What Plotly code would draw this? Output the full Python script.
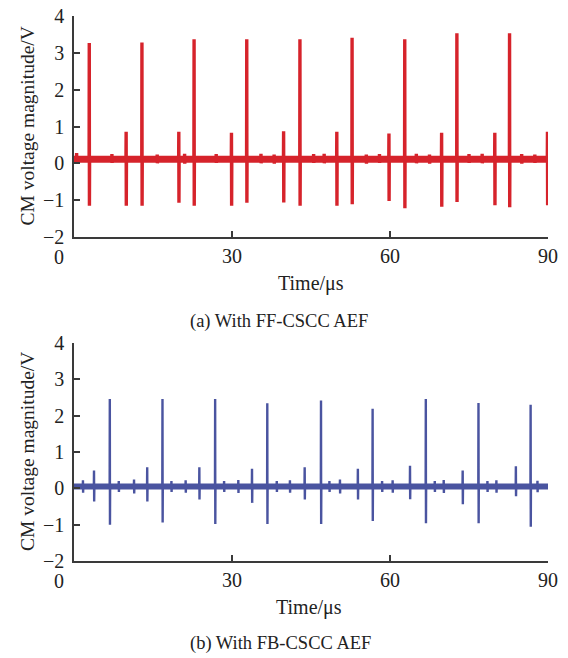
import plotly.graph_objects as go

# ---------------- data ----------------
# (a) With FF-CSCC AEF  (red)
ff_big_t = [2.9, 12.9, 22.8, 32.8, 42.9, 52.8, 62.8, 72.7, 82.7]
ff_big_hi = [3.27, 3.28, 3.37, 3.37, 3.37, 3.41, 3.37, 3.53, 3.53]
ff_big_lo = [-1.15, -1.15, -1.15, -1.07, -1.15, -1.11, -1.22, -1.05, -1.19]
ff_small_t = [9.9, 19.9, 29.9, 39.8, 49.9, 59.8, 69.8, 79.9, 89.9]
ff_small_hi = [0.86, 0.86, 0.83, 0.87, 0.86, 0.81, 0.83, 0.83, 0.86]
ff_small_lo = [-1.15, -1.07, -1.15, -1.06, -1.15, -1.02, -1.18, -1.14, -1.14]
ff_ripple_t = [0.5, 7.2, 15.8, 21.0, 27.0, 35.5, 38.0, 45.5, 47.5,
               55.5, 58.0, 65.0, 67.5, 75.0, 77.5, 85.0, 87.5]
ff_ripple_hi = [0.28, 0.25, 0.24, 0.26, 0.25, 0.26, 0.24, 0.25, 0.26,
                0.24, 0.25, 0.26, 0.24, 0.25, 0.26, 0.25, 0.24]
ff_ripple_lo = [0.0, 0.01, 0.0, -0.01, 0.01, 0.0, -0.01, 0.01, 0.0,
                -0.01, 0.01, 0.0, -0.01, 0.01, 0.0, -0.01, 0.01]
ff_base = 0.11

# (b) With FB-CSCC AEF  (blue)
fb_big_t = [6.8, 16.8, 26.8, 36.7, 46.9, 56.7, 66.8, 76.8, 86.7]
fb_big_hi = [2.46, 2.46, 2.46, 2.34, 2.42, 2.19, 2.46, 2.35, 2.30]
fb_big_lo = [-1.0, -0.94, -0.98, -0.98, -0.98, -0.90, -0.96, -0.96, -1.06]
fb_small_t = [3.8, 13.9, 23.8, 33.8, 43.8, 53.9, 63.8, 73.8, 83.9]
fb_small_hi = [0.49, 0.58, 0.58, 0.54, 0.58, 0.54, 0.62, 0.49, 0.61]
fb_small_lo = [-0.36, -0.36, -0.31, -0.40, -0.31, -0.31, -0.30, -0.44, -0.22]
fb_ripple_t = [1.7, 8.5, 11.4, 18.5, 21.2, 28.5, 31.2, 38.5, 41.0,
               48.5, 50.5, 58.5, 60.5, 68.5, 70.2, 78.5, 80.2, 88.0]
fb_ripple_hi = [0.22, 0.2, 0.24, 0.2, 0.22, 0.2, 0.23, 0.2, 0.22,
                0.2, 0.24, 0.2, 0.22, 0.2, 0.23, 0.2, 0.22, 0.21]
fb_ripple_lo = [-0.12, -0.1, -0.14, -0.1, -0.12, -0.1, -0.13, -0.1, -0.12,
                -0.1, -0.14, -0.1, -0.12, -0.1, -0.13, -0.1, -0.12, -0.11]
fb_base = 0.05

x_tick_vals = [0, 30, 60, 90]
x_tick_text = ["", "30", "60", "90"]
y_tick_vals = [-2, -1, 0, 1, 2, 3, 4]

x_title = "Time/μs"
y_title = "CM voltage magnitude/V"
caption_a = "(a) With FF-CSCC AEF"
caption_b = "(b) With FB-CSCC AEF"

RED = "#d6232b"
BLUE = "#4a54a0"
FONT = "Liberation Serif, Times New Roman, serif"
TXT = "#222222"


def build_wave(base, events):
    """events: list of (t, hi, lo); returns polyline x,y."""
    xs, ys = [0.0], [base]
    for t, hi, lo in sorted(events):
        xs += [t - 0.03, t, t + 0.03, t + 0.06]
        ys += [base, hi, lo, base]
    xs.append(90.0)
    ys.append(base)
    return xs, ys


def events_of(*groups):
    ev = []
    for ts, his, los in groups:
        ev += list(zip(ts, his, los))
    return ev


ff_x, ff_y = build_wave(ff_base, events_of((ff_big_t, ff_big_hi, ff_big_lo),
                                           (ff_small_t, ff_small_hi, ff_small_lo),
                                           (ff_ripple_t, ff_ripple_hi, ff_ripple_lo)))
fb_x, fb_y = build_wave(fb_base, events_of((fb_big_t, fb_big_hi, fb_big_lo),
                                           (fb_small_t, fb_small_hi, fb_small_lo),
                                           (fb_ripple_t, fb_ripple_hi, fb_ripple_lo)))

fig = go.Figure()
fig.add_trace(go.Scatter(x=[0, 90], y=[ff_base, ff_base], mode="lines",
                         line=dict(color=RED, width=7), xaxis="x", yaxis="y",
                         showlegend=False, hoverinfo="skip"))
fig.add_trace(go.Scatter(x=ff_x, y=ff_y, mode="lines",
                         line=dict(color=RED, width=3.4), xaxis="x", yaxis="y",
                         showlegend=False))
fig.add_trace(go.Scatter(x=[0, 90], y=[fb_base, fb_base], mode="lines",
                         line=dict(color=BLUE, width=6), xaxis="x2", yaxis="y2",
                         showlegend=False, hoverinfo="skip"))
fig.add_trace(go.Scatter(x=fb_x, y=fb_y, mode="lines",
                         line=dict(color=BLUE, width=2.4), xaxis="x2", yaxis="y2",
                         showlegend=False))

# the page body margin is removed (post_script), so the figure fills the window
W, H = 568, 658
X0, X1 = 74, 548
T1, B1 = 16, 237
T2, B2 = 343, 561
xdom = [X0 / W, X1 / W]
ydom1 = [1 - B1 / H, 1 - T1 / H]
ydom2 = [1 - B2 / H, 1 - T2 / H]

axis_common = dict(showgrid=False, zeroline=False, showline=True,
                   linecolor="#3a3a3a", linewidth=1.5, ticks="inside",
                   ticklen=6, tickwidth=1.5, tickcolor="#3a3a3a",
                   automargin=False, ticklabeloverflow="allow",
                   tickfont=dict(family=FONT, size=20, color=TXT))

xax = dict(axis_common, range=[0, 90], tickvals=x_tick_vals, ticktext=x_tick_text)
yax = dict(axis_common, range=[-2, 4], tickvals=y_tick_vals, ticklabelstandoff=4)

f20 = dict(family=FONT, size=20, color=TXT)
f19 = dict(family=FONT, size=19.5, color=TXT)
f18 = dict(family=FONT, size=18.5, color=TXT)


def ann(text, px, py, font, angle=0):
    return dict(text=text, x=px / W, y=1 - py / H,
                xref="paper", yref="paper",
                showarrow=False, font=font, textangle=angle,
                xanchor="center", yanchor="middle")


annotations = [
    dict(text="0", x=0, y=-2, xref="x", yref="y", showarrow=False,
         xshift=-15, yshift=-20, font=f20),
    dict(text="0", x=0, y=-2, xref="x2", yref="y2", showarrow=False,
         xshift=-15, yshift=-20, font=f20),
    ann(x_title, 311, 283, f20),
    ann(x_title, 309, 607, f20),
    ann(y_title, 27, (T1 + B1) / 2, f19, -90),
    ann(y_title, 27, (T2 + B2) / 2, f19, -90),
    ann(caption_a, 279, 322, f18),
    ann(caption_b, 280, 643, f18),
]

fig.update_layout(
    width=W, height=H,
    margin=dict(l=0, r=0, t=0, b=0),
    paper_bgcolor="white", plot_bgcolor="white",
    xaxis=dict(xax, domain=xdom, anchor="y"),
    yaxis=dict(yax, domain=ydom1, anchor="x"),
    xaxis2=dict(xax, domain=xdom, anchor="y2"),
    yaxis2=dict(yax, domain=ydom2, anchor="x2"),
    annotations=annotations,
)

fig.write_html("out.html", config={"displayModeBar": False},
               post_script="document.body.style.margin='0px';")
